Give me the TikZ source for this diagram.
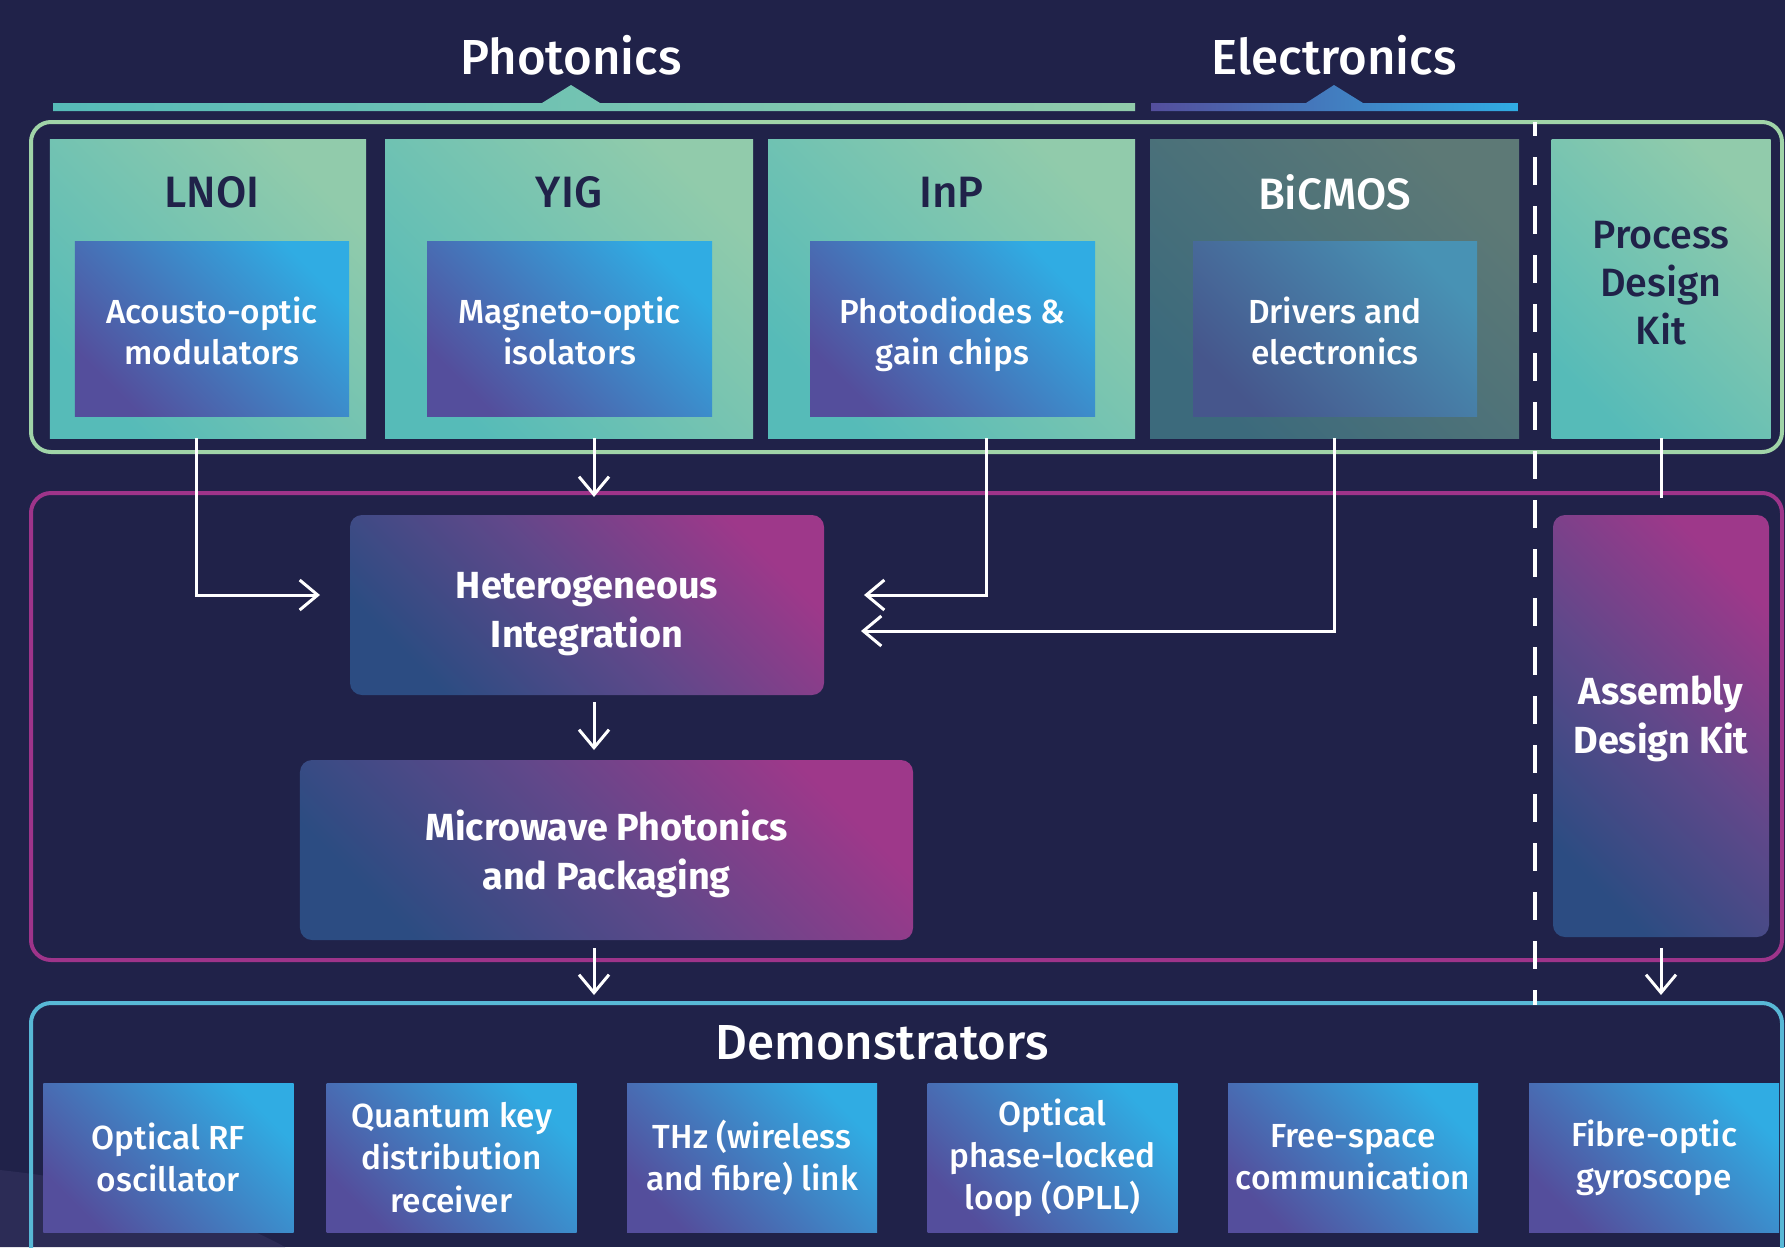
\documentclass[tikz,border=0pt]{standalone}
\usepackage{fontspec}
\IfFontExistsTF{Fira Sans Medium}
  {\setmainfont{Fira Sans Medium}[BoldFont={Fira Sans Bold}]}
  {\setmainfont{Fira Sans}}
\usepackage{tikz}
\usetikzlibrary{arrows.meta, calc}
\definecolor{navybg}{RGB}{32,34,73}
\definecolor{glowbg}{RGB}{44,44,86}
\definecolor{tealA}{RGB}{86,187,184}
\definecolor{tealB}{RGB}{145,203,171}
\definecolor{violetA}{RGB}{84,78,156}
\definecolor{skyB}{RGB}{48,172,227}
\definecolor{slateA}{RGB}{60,106,124}
\definecolor{slateB}{RGB}{93,121,118}
\definecolor{dimA}{RGB}{70,86,140}
\definecolor{dimB}{RGB}{72,146,180}
\definecolor{stageA}{RGB}{44,76,130}
\definecolor{stageM}{RGB}{96,72,138}
\definecolor{stageB}{RGB}{158,56,138}
\definecolor{greenframe}{RGB}{160,212,168}
\definecolor{pinkframe}{RGB}{158,52,138}
\definecolor{cyanframe}{RGB}{88,184,214}

\begin{document}
\begin{tikzpicture}[
    x=0.2mm, y=-0.2mm,
    tech/.style={inner sep=0pt, left color=tealA, right color=tealB, shading angle=135},
    techlabel/.style={text=navybg, font=\fontsize{25}{30}\selectfont},
    chip/.style={inner sep=0pt, left color=violetA, right color=skyB, shading angle=135, text=white, align=center, font=\fontsize{19}{23.5}\selectfont},
    chiplabel/.style={text=white, align=center, font=\fontsize{19}{23.5}\selectfont},
    stage/.style={inner sep=0pt, rounded corners=2.4mm, left color=stageA, right color=stageB, middle color=stageM, shading angle=135},
    stagelabel/.style={text=white, align=center, font=\bfseries\fontsize{21.5}{28}\selectfont},
    demo/.style={chip, minimum width=50mm, minimum height=29.8mm, font=\fontsize{19}{24}\selectfont},
    heading/.style={text=white, font=\fontsize{28}{34}\selectfont},
    frame/.style={line width=0.8mm, rounded corners=4mm},
    flow/.style={white, line width=0.6mm, -{Straight Barb[length=3.6mm, width=6mm]}},
    link/.style={white, line width=0.6mm}
]
    \useasboundingbox (0,0) rectangle (1785,1247);
    \clip (0,0) rectangle (1785,1247);
    \fill[navybg] (0,0) rectangle (1785,1247);
    \fill[glowbg] (0,1170) .. controls (110,1182) and (215,1208) .. (285,1247) -- (0,1247) -- cycle;

    % Headings and their bars
    \node[heading] (photonics) at (571,55) {Photonics};
    \node[heading] (electronics) at (1334,55) {Electronics};
    \shade[left color=tealA, right color=tealB] (53,111) -- (53,103) -- (542,103) -- (571,85) -- (600,103) -- (1135,103) -- (1135,111) -- cycle;
    \shade[left color=violetA, right color=skyB] (1151,111) -- (1151,103) -- (1306,103) -- (1334,85) -- (1363,103) -- (1518,103) -- (1518,111) -- cycle;

    % Frames
    \draw[frame, greenframe] (31,122) rectangle (1782,452);
    \draw[frame, pinkframe] (31,493) rectangle (1782,960);
    \draw[frame, cyanframe] (31,1003) rectangle (1782,1290);

    % Technology platforms
    \node[tech, minimum width=63.2mm, minimum height=59.8mm] (lnoi) at (208,288.5) {};
    \node[tech, minimum width=73.6mm, minimum height=59.8mm] (yig) at (569,288.5) {};
    \node[tech, minimum width=73.4mm, minimum height=59.8mm] (inp) at (951.5,288.5) {};
    \node[tech, left color=slateA, right color=slateB, shading angle=135, minimum width=73.8mm, minimum height=59.8mm] (bicmos) at (1334.5,288.5) {};
    \node[tech, minimum width=43.8mm, minimum height=59.8mm] (pdk) at (1661,288.5) {};

    \node[techlabel] (lnoi-t) at (212,192) {LNOI};
    \node[techlabel] (yig-t) at (569,192) {YIG};
    \node[techlabel] (inp-t) at (951.5,192) {InP};
    \node[techlabel, text=white] (bicmos-t) at (1334.5,192) {BiCMOS};
    \node[techlabel, align=center, font=\fontsize{22.5}{27.5}\selectfont] (pdk-t) at (1661,283) {Process\\Design\\Kit};

    % Components
    \node[chip, minimum width=54.8mm, minimum height=35mm] (aom) at (212,328.5) {};
    \node[chip, minimum width=57mm, minimum height=35mm] (moi) at (569.5,328.5) {};
    \node[chip, minimum width=57mm, minimum height=35mm] (pdg) at (952.5,328.5) {};
    \node[chip, left color=dimA, right color=dimB, shading angle=135, minimum width=56.8mm, minimum height=35mm] (drv) at (1335,328.5) {};
    \node[chiplabel] (aom-t) at (212,331) {Acousto-optic\\modulators};
    \node[chiplabel] (moi-t) at (569.5,331) {Magneto-optic\\isolators};
    \node[chiplabel] (pdg-t) at (952.5,334.5) {Photodiodes \&\\gain chips};
    \node[chiplabel] (drv-t) at (1335,331) {Drivers and\\electronics};

    % Integration stages
    \node[stage, minimum width=94.8mm, minimum height=36mm] (hetint) at (587,605) {};
    \node[stage, minimum width=122.6mm, minimum height=36mm] (mwp) at (606.5,850) {};
    \node[stage, minimum width=43.2mm, minimum height=84.4mm] (adk) at (1661,726) {};
    \node[stagelabel] (hetint-t) at (587,614) {Heterogeneous\\Integration};
    \node[stagelabel] (mwp-t) at (606.5,854) {Microwave Photonics\\and Packaging};
    \node[stagelabel] (adk-t) at (1661,719) {Assembly\\Design Kit};

    % Demonstrators
    \node[heading] (demos) at (882,1043) {Demonstrators};
    \node[demo] (rf) at (168.5,1157.5) {Optical RF\\oscillator};
    \node[demo] (qkd) at (451.5,1157.5) {Quantum key\\distribution\\receiver};
    \node[demo] (thz) at (752,1157.5) {THz (wireless\\and fibre) link};
    \node[demo] (opll) at (1052.5,1157.5) {Optical\\phase-locked\\loop (OPLL)};
    \node[demo] (fso) at (1353,1157.5) {Free-space\\communication};
    \node[demo] (fog) at (1654,1157.5) {Fibre-optic\\gyroscope};

    % Divider between chips and kits
    \draw[white, line width=0.8mm, dash pattern=on 5.6mm off 4.2mm, dash phase=2.8mm] (1535,122) -- (1535,1005);

    % Connectors
    \coordinate (hi-left) at (320,595);
    \coordinate (hi-top) at (594,497);
    \coordinate (hi-right1) at (864,595);
    \coordinate (hi-right2) at (861,631);
    \coordinate (mwp-top) at (594,750);
    \coordinate (demo-top) at (594,995);
    \coordinate (adk-top) at (1661,498);
    \coordinate (fog-top) at (1661,995);

    \draw[flow] ($(lnoi.south)+(-12,0)$) |- (hi-left);
    \draw[flow] ($(yig.south)+(25,0)$) -- (hi-top);
    \draw[flow] ($(inp.south)+(35,0)$) |- (hi-right1);
    \draw[flow] (bicmos.south) |- (hi-right2);
    \draw[flow, shorten <=1.4mm] (hetint.south -| mwp-top) -- (mwp-top);
    \draw[flow, shorten <=1.6mm] (mwp.south -| demo-top) -- (demo-top);
    \draw[link] (pdk.south) -- (adk-top);
    \draw[flow, shorten <=2.2mm] (adk.south) -- (fog-top);
\end{tikzpicture}
\end{document}
